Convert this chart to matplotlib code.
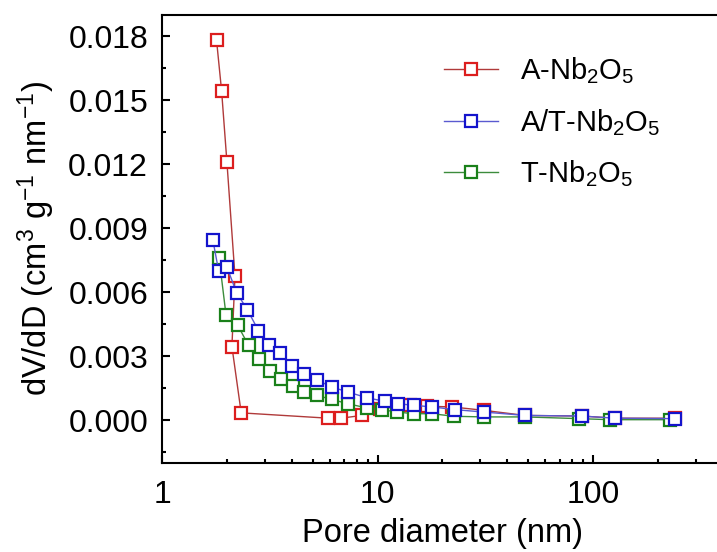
import numpy as np
import matplotlib
matplotlib.use('Agg')
from matplotlib import pyplot

pyplot.rcParams['font.family'] = ['Liberation Sans', 'DejaVu Sans']
pyplot.rcParams['mathtext.fontset'] = 'custom'
pyplot.rcParams['mathtext.rm'] = 'Liberation Sans'
pyplot.rcParams['mathtext.it'] = 'Liberation Sans'

# pore size distributions (nm, cm3 g-1 nm-1)
d_a = [1.79, 1.89, 2.00, 2.18, 2.11, 2.33, 5.91, 6.77, 8.45, 10.3, 14.1, 16.9, 22.1, 31.0, 48.3, 88.6, 126.5, 240]
v_a = [0.01783, 0.01544, 0.01212, 0.00676, 0.00346, 0.00035, 0.00010, 0.00010, 0.00023, 0.00055, 0.00070,
       0.00066, 0.00063, 0.00047, 0.00023, 0.00020, 0.00010, 0.00010]

d_at = [1.72, 1.83, 2.00, 2.22, 2.49, 2.80, 3.15, 3.53, 4.00, 4.56, 5.22, 6.13, 7.27, 8.91, 10.8, 12.4, 14.8,
        17.9, 22.9, 31.0, 48.3, 88.6, 126.5, 240]
v_at = [0.00847, 0.00702, 0.00718, 0.00598, 0.00518, 0.00421, 0.00351, 0.00317, 0.00255, 0.00219, 0.00190,
        0.00156, 0.00133, 0.00106, 0.00089, 0.00078, 0.00070, 0.00063, 0.00050, 0.00039, 0.00023, 0.00020,
        0.00010, 0.00008]

d_t = [1.84, 1.98, 2.24, 2.52, 2.82, 3.17, 3.56, 4.03, 4.56, 5.22, 6.13, 7.27, 8.91, 10.46, 12.3, 14.7, 17.9,
       22.6, 31.0, 48.3, 85.5, 120, 228]
v_t = [0.00761, 0.00496, 0.00448, 0.00351, 0.00289, 0.00231, 0.00195, 0.00159, 0.00133, 0.00117, 0.00098,
       0.00078, 0.00058, 0.00050, 0.00039, 0.00031, 0.00031, 0.00019, 0.00016, 0.00016, 0.00008, 0.00003,
       0.00003]

labels = ['A-Nb$_2$O$_5$', 'A/T-Nb$_2$O$_5$', 'T-Nb$_2$O$_5$']
colors = ['#dc1e1e', '#1414cc', '#1a801a']
line_colors = ['#b03a3a', '#5a5ad0', '#3c8c3c']

fig = pyplot.figure(figsize=(7.17, 5.52), dpi=100)
ax = fig.add_axes([162 / 717, (552 - 463) / 552, 561 / 717, (463 - 15) / 552])

mkw = dict(marker='s', ms=9, mew=1.6, mfc='white', lw=1.0)
h_a, = ax.plot(d_a, v_a, color=line_colors[0], mec=colors[0], zorder=3, **mkw)
h_t, = ax.plot(d_t, v_t, color=line_colors[2], mec=colors[2], zorder=4, **mkw)
h_at, = ax.plot(d_at, v_at, color=line_colors[1], mec=colors[1], zorder=5, **mkw)

ax.set_xscale('log')
ax.set_xlim(1, 400)
ax.set_ylim(-0.002, 0.019)
ax.set_yticks(np.arange(0, 0.0181, 0.003))
ax.set_yticks(np.arange(-0.0015, 0.019, 0.003), minor=True)
ax.set_xticks([1, 10, 100])
ax.set_xticklabels(['1', '10', '100'])

for s in ['left', 'bottom', 'top']:
    ax.spines[s].set_linewidth(1.5)
ax.spines['right'].set_visible(False)
ax.tick_params(which='both', direction='in', top=False, right=False, width=1.5, labelsize=23)
ax.tick_params(which='major', length=6)
ax.tick_params(axis='x', which='major', pad=12)
ax.tick_params(axis='y', which='major', pad=10)
ax.tick_params(which='minor', length=3)

ax.set_xlabel('Pore diameter (nm)', fontsize=23.5, labelpad=6)
ax.set_ylabel('dV/dD (cm$^3$ g$^{-1}$ nm$^{-1}$)', fontsize=23.5, labelpad=8)

leg = ax.legend([h_a, h_at, h_t], labels, loc='upper left', bbox_to_anchor=(444 / 717, 1 - 55 / 552),
                bbox_transform=fig.transFigure, frameon=False, fontsize=21, handlelength=1.85,
                handletextpad=0.75, labelspacing=0.72, borderpad=0, borderaxespad=0)

fig.savefig('out.png', dpi=100)
